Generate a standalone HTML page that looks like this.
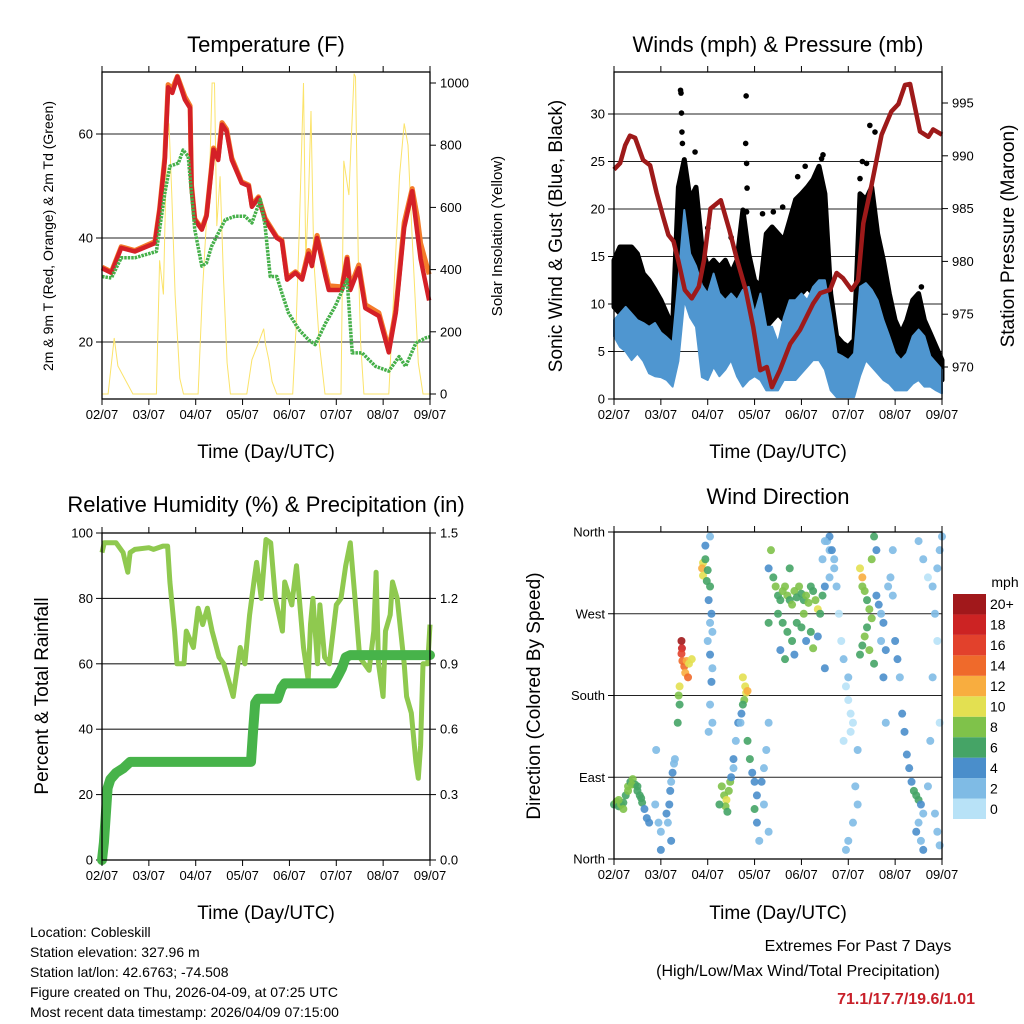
<!DOCTYPE html>
<html><head><meta charset="utf-8">
<style>
html,body{margin:0;padding:0;background:#fff;}
svg{display:block;font-family:"Liberation Sans",sans-serif;}
</style></head>
<body>
<svg id="c" width="1024" height="1024" viewBox="0 0 1024 1024" xmlns="http://www.w3.org/2000/svg">
<rect width="1024" height="1024" fill="#fff"/>
<g font-size="22" text-anchor="middle" fill="#000">
<text x="266" y="52">Temperature (F)</text>
<text x="778" y="52">Winds (mph) &amp; Pressure (mb)</text>
<text x="266" y="512">Relative Humidity (%) &amp; Precipitation (in)</text>
<text x="778" y="504">Wind Direction</text>
</g>
<g font-size="19" text-anchor="middle">
<text x="266" y="458">Time (Day/UTC)</text>
<text x="778" y="458">Time (Day/UTC)</text>
<text x="266" y="919">Time (Day/UTC)</text>
<text x="778" y="919">Time (Day/UTC)</text>
</g>
<text transform="translate(53,236) rotate(-90)" font-size="14" text-anchor="middle">2m &amp; 9m T (Red, Orange) &amp; 2m Td (Green)</text>
<text transform="translate(502,236) rotate(-90)" font-size="15" text-anchor="middle">Solar Insolation (Yellow)</text>
<text transform="translate(562,236) rotate(-90)" font-size="19" text-anchor="middle">Sonic Wind &amp; Gust (Blue, Black)</text>
<text transform="translate(1014,236) rotate(-90)" font-size="19" text-anchor="middle">Station Pressure (Maroon)</text>
<text transform="translate(48,696) rotate(-90)" font-size="19" text-anchor="middle">Percent &amp; Total Rainfall</text>
<text transform="translate(540,696) rotate(-90)" font-size="19" text-anchor="middle">Direction (Colored By Speed)</text>
<g font-size="14">
<text x="30" y="937">Location: Cobleskill</text>
<text x="30" y="957">Station elevation: 327.96 m</text>
<text x="30" y="977">Station lat/lon: 42.6763; -74.508</text>
<text x="30" y="997">Figure created on Thu, 2026-04-09, at 07:25 UTC</text>
<text x="30" y="1017">Most recent data timestamp: 2026/04/09 07:15:00</text>
</g>
<text x="858" y="951" font-size="16" text-anchor="middle">Extremes For Past 7 Days</text>
<text x="798" y="976" font-size="16" text-anchor="middle">(High/Low/Max Wind/Total Precipitation)</text>
<text x="975" y="1004" font-size="16" font-weight="bold" fill="#c8202a" text-anchor="end">71.1/17.7/19.6/1.01</text>
<g id="plots"></g>
</svg>
<script>
// ---------- DATA ----------
const dayLabels = ["02/07","03/07","04/07","05/07","06/07","07/07","08/07","09/07"];
const tempTicks = [20,40,60];
const solarTicks = [0,200,400,600,800,1000];
const windTicks = [0,5,10,15,20,25,30];
const presTicks = [970,975,980,985,990,995];
const rhTicks = [0,20,40,60,80,100];
const rainTicks = ["0.0","0.3","0.6","0.9","1.2","1.5"];
const dirTicks = ["North","East","South","West","North"];

const tRedT = [0,0.2,0.41,0.7,1.13,1.23,1.34,1.41,1.5,1.61,1.77,1.88,1.91,1.98,2.13,2.23,2.38,2.48,2.56,2.66,2.77,2.98,3.13,3.2,3.34,3.48,3.73,3.84,3.95,4.13,4.27,4.41,4.48,4.59,4.77,4.84,5.12,5.23,5.3,5.48,5.62,5.91,6.12,6.27,6.45,6.62,6.73,6.8,6.98];
const tRedV = [34.2,33.3,38.1,37.4,39,45.4,55,69,67.9,71,66.6,65,50,43.5,41.6,44.2,57,55,61.8,60.5,55,50.6,50,46,47.7,43.5,40,39.4,32,33.3,32,37,34.6,40,32.6,30,30,36,30,34.2,26.5,25,18,25.6,42,49,41,36,28];
const tOrgV = [34.4,33.5,38.3,37.6,39.3,45.6,55.5,69.5,68.7,71.1,67.2,65.4,50.2,43.7,41.8,44.4,57.3,55.5,62.2,60.9,55.4,50.8,50.2,46.3,47.9,43.8,40.2,39.6,32.3,33.5,32.3,37.6,35.3,40.5,33.5,30.8,30.6,36.3,30.6,34.8,27.2,25.6,18.6,26.2,43,49.5,44,39,33];
const tdT = [0,0.2,0.41,0.7,1.16,1.34,1.45,1.63,1.73,1.84,1.98,2.13,2.23,2.34,2.63,2.84,3.05,3.2,3.38,3.48,3.59,3.73,3.84,3.98,4.2,4.41,4.55,4.77,4.98,5.23,5.34,5.55,5.84,6.12,6.34,6.48,6.7,6.91,7];
const tdV = [32.6,32.3,36.2,36.2,37.4,48.6,53.8,54.4,56.9,55.7,41.6,34.6,35.2,38.4,43.5,44.2,44.2,42.9,47.4,42.3,32.6,32.6,29.4,25.6,22.4,20.4,19.5,23.6,26.9,32,17.9,17.9,15.3,14.4,17.2,15.3,19.8,20.8,21];
const solT = [0,0.13,0.26,0.34,0.66,1.16,1.23,1.31,1.38,1.43,1.49,1.56,1.66,1.74,2.05,2.14,2.31,2.35,2.4,2.45,2.52,2.59,2.67,2.74,2.84,3.09,3.2,3.33,3.45,3.49,3.56,3.63,3.73,4.07,4.14,4.21,4.3,4.35,4.41,4.46,4.52,4.64,4.76,5.1,5.16,5.27,5.38,5.41,5.47,5.52,5.59,5.69,6.12,6.25,6.35,6.45,6.53,6.62,6.75,6.85,7];
const solV = [0,0,180,90,0,0,430,320,800,870,640,320,50,0,0,320,770,1000,1000,540,700,380,100,0,0,0,110,160,210,160,110,40,0,0,210,530,1000,430,640,910,430,160,0,0,750,640,1030,1020,430,160,0,0,0,400,700,870,800,500,100,0,0];

const presT = [0,0.13,0.24,0.34,0.45,0.62,0.77,0.91,1.05,1.16,1.27,1.37,1.51,1.66,1.81,1.92,2.06,2.28,2.46,2.63,2.81,2.97,3.12,3.26,3.37,3.54,3.76,3.97,4.25,4.4,4.61,4.75,4.89,5.07,5.21,5.32,5.5,5.71,5.92,6.07,6.21,6.32,6.53,6.71,6.81,7];
const presV = [988.7,989.3,991,991.9,991.7,989.6,989.1,986.5,984.2,982.5,981.9,980.1,977.3,976.5,977.6,980.1,985,985.8,983,980.1,977.3,973.8,969.7,970,968.1,969.7,972.2,973.5,976,977,977.3,978.9,978.4,977.3,978.2,983.6,987.3,992,994.2,994.9,996.7,996.8,992.3,991.8,992.5,992];
const windHi = [8.3,9,9.7,9,8.3,8,7.6,8,7,6.5,5.9,12.5,19.9,15.3,14,12,11.1,13.2,11.1,10.4,11.1,10.4,11.5,11.8,9,11.1,7.6,7.6,5.9,8.6,10.4,10.4,11.1,10.4,11.8,12.5,12.5,9,4.8,4.5,4.1,4.8,11.8,12.2,11.5,10.4,8.3,6.6,4.8,4.1,4.8,6.6,7.3,6.6,4.5,3.8,3.1];
const windLo = [6.6,5.5,5,4.1,4.8,4,2.7,2.4,2.3,2,1.3,4,10.4,8.6,7.6,2.3,2,3.4,2.4,3.1,4.1,2.4,1.3,2,2.4,2,0.9,0.9,0.9,2,2,2,2.7,3.4,4.1,4.1,3.1,0.9,0.2,0.2,0.2,0.2,2.4,4.1,3.4,2.7,2,1.6,0.9,0.9,0.9,1.6,2,1.3,1.3,0.9,0.6];
const gustHi = [14.6,16,16,16,15.3,13.2,12.5,11.5,10.4,9,7.6,22.3,25.2,21,22.3,16,13.9,14.6,13.9,14.6,13.2,14.6,19.9,15.3,12.5,11.8,17.4,18.1,17.4,16.7,18.8,21,21.6,22.3,23.1,24.5,21.6,11.1,6.6,5.9,5.5,6.2,21.6,21,22.3,17.4,14.6,11.1,8.3,6.9,8.3,10.4,11.1,8.3,6.9,5.5,4.1];
const gustLo = [9.7,9,9.7,9,8.3,7.6,7.6,6.9,6.2,5.5,4.8,11.1,12.9,12.9,11.1,7.6,5.9,8.3,7.6,9.4,9,7.6,11.1,7.6,5.9,5.9,7.6,8.3,9,8.3,9,10.4,11.1,11.8,11.1,11.8,10.4,4.8,3.4,2.7,2.4,2.7,11.1,11.8,11.1,8.3,6.9,5.5,4.8,4.1,4.8,5.5,5.9,4.8,4.1,3,2];
const gustOutT = [1.42,1.43,1.44,1.45,1.46,1.73,2.82,2.81,2.83,2.84,2.83,3.17,3.4,3.6,3.92,4.08,4.43,4.46,5.25,5.46,5.57,5.39,6.56,1.5,1.55,2.0,2.5,4.2,4.3,5.3];
const gustOutV = [32.5,32.2,30.1,28.1,26.9,26,31.9,26.9,24.8,22.2,19.7,19.5,19.7,20.2,23.4,24.5,25.3,25.7,23.2,28.8,28.1,24.8,11.8,24,23,18,17,22,23,25];

const rhT = [0,0.05,0.3,0.45,0.55,0.6,0.7,1.0,1.1,1.3,1.4,1.45,1.55,1.6,1.75,1.8,1.95,2.05,2.15,2.25,2.35,2.5,2.6,2.8,2.95,3.05,3.15,3.25,3.3,3.4,3.5,3.6,3.7,3.85,3.9,4.05,4.15,4.3,4.4,4.45,4.5,4.6,4.65,4.75,4.85,5.0,5.1,5.2,5.3,5.4,5.5,5.6,5.7,5.8,5.85,5.9,6.0,6.05,6.15,6.2,6.3,6.45,6.5,6.6,6.7,6.75,6.8,6.85,6.95,7.0];
const rhV = [94,97,97,94,88,94,95,95.5,95,96,96,85,70,60,60,70,65,77,72,77,70,62,60,50,65,60,75,86,91,80,98,97,80,70,85,78,90,65,55,72,80,60,78,62,60,78,80,90,97,80,62,60,58,70,88,60,50,70,75,85,80,60,50,45,30,25,35,60,60,72];
const rainT = [0,0.04,0.08,0.12,0.18,0.3,0.45,0.6,3.18,3.22,3.27,3.33,3.75,3.83,3.9,4.95,5.05,5.12,5.2,5.3,7.0];
const rainV = [0,0.08,0.2,0.33,0.37,0.4,0.42,0.45,0.45,0.58,0.72,0.74,0.74,0.79,0.81,0.81,0.85,0.88,0.93,0.94,0.94];

const dirDay = [0,0.05,0.1,0.15,0.2,0.25,0.3,0.35,0.4,0.45,0.5,0.55,0.6,0.65,0.7,0.75,0.3,0.38,0.2,0.1,0.5,0.58,
1.12,1.15,1.18,1.2,1.22,1.25,1.28,1.22,1.0,0.95,1.0,1.3,0.9,0.88,
1.44,1.45,1.44,1.46,1.5,1.52,1.55,1.6,1.66,1.58,1.4,1.38,1.4,1.36,
1.9,1.88,1.9,1.95,2.0,1.98,2.05,2.02,2.08,2.05,2.1,2.0,2.05,2.1,2.08,2.05,2.1,2.02,1.95,2.05,
2.3,2.35,2.4,2.38,2.45,2.42,2.25,2.48,2.5,2.55,2.6,2.65,2.55,
2.75,2.8,2.82,2.78,2.85,2.75,2.72,2.7,2.85,2.9,2.95,3.0,3.05,3.0,3.05,3.1,3.15,3.2,3.25,3.2,3.3,3.3,
3.3,3.4,3.45,3.5,3.55,3.6,3.65,3.7,3.75,3.8,3.85,3.9,3.95,4.0,4.05,4.1,4.15,4.2,4.25,4.3,4.35,4.4,4.45,4.5,3.6,3.7,3.8,3.55,3.65,3.9,4.0,4.1,4.2,4.25,3.85,3.3,3.5,4.05,3.75,3.35,4.35,4.5,4.45,4.55,4.6,4.6,4.7,4.75,
4.8,4.85,4.9,4.95,5.0,5.05,5.1,5.0,4.9,5.05,5.2,5.1,5.0,4.95,5.15,5.2,
5.25,5.3,5.3,5.35,5.4,5.45,5.5,5.4,5.35,5.3,5.45,5.25,5.55,5.5,5.6,5.55,5.6,
5.65,5.7,5.75,5.7,5.8,5.85,5.9,5.95,5.75,5.8,5.95,
6.0,6.05,6.1,6.15,6.2,6.25,6.3,6.35,6.4,6.45,6.5,6.55,6.6,6.5,6.45,6.55,6.6,
6.5,6.6,6.7,6.8,6.9,6.95,7.0,6.85,6.9,6.8,6.95,6.7,6.85,6.9,6.95,6.75,
4.6,4.65,4.7,4.5];
const dirDeg = [60,63,58,60,62,70,80,85,88,82,75,70,62,55,45,40,75,82,55,65,80,67,
50,40,60,75,85,95,105,20,30,40,10,110,120,60,
240,232,226,218,212,205,218,215,220,200,190,180,170,150,
326,320,312,330,318,306,300,285,270,260,250,240,225,210,195,170,150,140,345,355,
80,70,65,58,75,52,60,85,90,110,130,150,100,
200,190,183,175,185,170,160,150,130,110,95,85,70,55,40,20,85,100,120,60,150,30,
320,310,300,290,285,295,300,290,285,280,295,288,300,292,285,290,282,300,295,285,275,270,290,300,260,250,240,230,220,260,255,240,250,232,225,260,270,270,320,340,245,210,330,350,340,310,320,300,
270,240,220,190,175,160,150,200,130,140,60,40,20,10,80,120,
320,310,300,295,285,275,265,255,245,235,230,225,215,330,340,355,290,
280,270,260,240,230,300,310,290,200,150,340,
240,220,200,160,140,115,100,85,75,70,65,60,50,40,30,20,10,
350,330,310,300,320,340,355,270,240,200,150,80,50,30,15,130,
355,340,330,350];
const dirSpd = [7,8,7,8,7,7,8,7,8,7,6,6,6,5,4,4,9,8,8,9,7,7,
4,3,4,4,3,4,3,4,3,2,4,3,2,2,
20,19,17,15,14,12,12,11,11,14,11,9,7,6,
11,12,10,7,7,7,6,5,4,3,3,3,4,3,4,3,2,3,4,3,
8,9,10,9,9,7,6,9,4,4,3,4,3,
11,10,10,9,12,7,4,3,6,6,4,4,5,6,4,3,4,3,2,2,2,2,
5,7,8,6,7,8,9,8,6,9,8,7,9,6,7,8,9,7,6,8,10,7,6,5,6,7,6,5,6,7,6,5,7,9,4,6,7,8,7,8,4,4,3,3,3,2,3,2,
1,1,2,1,0,0,1,2,1,1,2,2,2,2,3,3,
10,12,9,8,7,8,9,6,8,6,9,6,7,8,5,6,4,
4,3,4,3,4,2,3,2,5,2,2,
4,4,3,4,4,4,4,5,6,6,6,4,3,3,4,3,4,
2,2,1,2,2,2,2,2,1,2,1,2,2,3,2,2,
4,4,3,2];
const cbarLabels = ["0","2","4","6","8","10","12","14","16","18","20+"];
const cbarColors = ["#b8e2f7","#7fbbe5","#4a8ecb","#45a466","#7fc24a","#e3e051","#f8ad3f","#ef6a2b","#e2412c","#cc2323","#a1181b"];

// ---------- SCALES ----------
const DW = 328/7;
const xL = d => 102 + d*DW;
const xR = d => 614 + d*DW;
const yT = t => 342 - (t-20)*5.2;
const yS = v => 394 - v*0.311;
const yW = m => 399 - m*9.5;
const yP = p => 367 - (p-970)*10.56;
const yH = p => 860 - p*3.27;
const yRn = r => 860 - r/1.5*327;
const yD = a => 859 - a/360*327;

const NS = "http://www.w3.org/2000/svg";
const root = document.getElementById("plots");
function mk(tag, attrs, parent){
  const e = document.createElementNS(NS, tag);
  for (const k in attrs) e.setAttribute(k, attrs[k]);
  (parent||root).appendChild(e);
  return e;
}
function pathOf(ts, vs, fx, fy){
  return ts.map((t,i)=>(i?"L":"M")+fx(t).toFixed(1)+","+fy(vs[i]).toFixed(1)).join("");
}

// ---------- FRAME HELPERS ----------
function frame(x0, x1, y0, y1, xf, name){
  const r = mk("rect",{x:x0,y:y0,width:x1-x0,height:y1-y0,fill:"none",stroke:"#000","stroke-width":1.3});
  
  
  for (let i=0;i<dayLabels.length;i++){
    const x = xf(i);
    const tb = mk("line",{x1:x,x2:x,y1:y1,y2:y1+6,stroke:"#000","stroke-width":1});
    
    
    const tt = mk("line",{x1:x,x2:x,y1:y0,y2:y0-6,stroke:"#000","stroke-width":1});
    
    
    const lb = mk("text",{x:x,y:y1+20,"font-size":13,"text-anchor":"middle"});
    lb.textContent = dayLabels[i];
    
    
  }
}
function leftAxis(vals, labels, fy, x0, x1, name, grid){
  vals.forEach((v,i)=>{
    const y = fy(v);
    if (grid){
      const g = mk("line",{x1:x0,x2:x1,y1:y,y2:y,stroke:"#222","stroke-width":1.1});
      
      
    }
    const t = mk("line",{x1:x0-6,x2:x0,y1:y,y2:y,stroke:"#000","stroke-width":1});
    
    
    const lb = mk("text",{x:x0-9,y:y+4.5,"font-size":13,"text-anchor":"end"});
    lb.textContent = labels[i];
    
    
  });
}
function rightAxis(vals, labels, fy, x1, name){
  vals.forEach((v,i)=>{
    const y = fy(v);
    const t = mk("line",{x1:x1,x2:x1+6,y1:y,y2:y,stroke:"#000","stroke-width":1});
    
    
    const lb = mk("text",{x:x1+10,y:y+4.5,"font-size":13,"text-anchor":"start"});
    lb.textContent = labels[i];
    
    
  });
}

// ---------- PANEL 1: TEMPERATURE ----------
leftAxis(tempTicks, tempTicks, yT, 102, 430, "temp-y", true);
rightAxis(solarTicks, solarTicks, yS, 430, "solar-y");
const solPath = mk("path",{d:pathOf(solT, solV, xL, yS),fill:"none",stroke:"#fbe36a","stroke-width":1});


const orgPath = mk("path",{d:pathOf(tRedT, tOrgV, xL, yT),fill:"none",stroke:"#f47b2a","stroke-width":5,"stroke-linejoin":"round"});


const redPath = mk("path",{d:pathOf(tRedT, tRedV, xL, yT),fill:"none",stroke:"#d42027","stroke-width":4.5,"stroke-linejoin":"round"});


const tdPath = mk("path",{d:pathOf(tdT, tdV, xL, yT),fill:"none",stroke:"#46b04a","stroke-width":3.5,"stroke-dasharray":"2.5 1","stroke-linejoin":"round"});


frame(102, 430, 72, 399, xL, "temp");

// ---------- PANEL 2: WINDS ----------
leftAxis(windTicks, windTicks, yW, 614, 942, "wind-y", true);
rightAxis(presTicks, presTicks, yP, 942, "pressure-y");
const stepT = windHi.map((_,i)=>i/8);
let gb = "M" + stepT.map((t,i)=>xR(t).toFixed(1)+","+yW(gustHi[i]).toFixed(1)).join("L");
gb += "L" + stepT.slice().reverse().map((t,j)=>{const i=stepT.length-1-j;return xR(t).toFixed(1)+","+yW(gustLo[i]).toFixed(1);}).join("L")+"Z";
const gustBand = mk("path",{d:gb,fill:"#000",stroke:"#000","stroke-width":5,"stroke-linejoin":"round"});


gustOutT.forEach((t,i)=>{
  const c = mk("circle",{cx:xR(t),cy:yW(gustOutV[i]),r:2.8,fill:"#000"});
  
  
});
let wb = "M" + stepT.map((t,i)=>xR(t).toFixed(1)+","+yW(windHi[i]).toFixed(1)).join("L");
wb += "L" + stepT.slice().reverse().map((t,j)=>{const i=stepT.length-1-j;return xR(t).toFixed(1)+","+yW(windLo[i]).toFixed(1);}).join("L")+"Z";
const windBand = mk("path",{d:wb,fill:"#4f96d0",stroke:"#4f96d0","stroke-width":2,"stroke-linejoin":"round"});


const presPath = mk("path",{d:pathOf(presT, presV, xR, yP),fill:"none",stroke:"#9e1a1a","stroke-width":4.5,"stroke-linejoin":"round"});


frame(614, 942, 72, 399, xR, "wind");

// ---------- PANEL 3: RH & PRECIP ----------
leftAxis(rhTicks, rhTicks, yH, 102, 430, "rh-y", true);
rightAxis(rainTicks.map(Number), rainTicks, yRn, 430, "rain-y");
const rhPath = mk("path",{d:pathOf(rhT, rhV, xL, yH),fill:"none",stroke:"#8fc94f","stroke-width":5,"stroke-linejoin":"round"});


const rainPath = mk("path",{d:pathOf(rainT, rainV, xL, yRn),fill:"none",stroke:"#47b34a","stroke-width":10,"stroke-linejoin":"round","stroke-linecap":"round"});


frame(102, 430, 533, 860, xL, "rh");

// ---------- PANEL 4: WIND DIRECTION ----------
leftAxis([0,90,180,270,360], dirTicks, yD, 614, 942, "dir-y", true);
dirDay.forEach((d,i)=>{
  const idx = Math.min(10, Math.floor(dirSpd[i]/2));
  const c = mk("circle",{cx:xR(d),cy:yD(dirDeg[i]),r:4,fill:cbarColors[idx],"fill-opacity":0.9});
  
  
});
frame(614, 942, 532, 859, xR, "dir");

// colorbar
const cbTitle = mk("text",{x:1005,y:587,"font-size":14,"text-anchor":"middle"});
cbTitle.textContent = "mph";


const bh = 225/11;
cbarColors.forEach((col,i)=>{
  const y = 819 - (i+1)*bh;
  const r = mk("rect",{x:953,y:y,width:33,height:bh,fill:col});
  
  
  const t = mk("text",{x:990,y:y+bh/2+5,"font-size":14});
  t.textContent = cbarLabels[i];
  
  
});
</script>
</body></html>
